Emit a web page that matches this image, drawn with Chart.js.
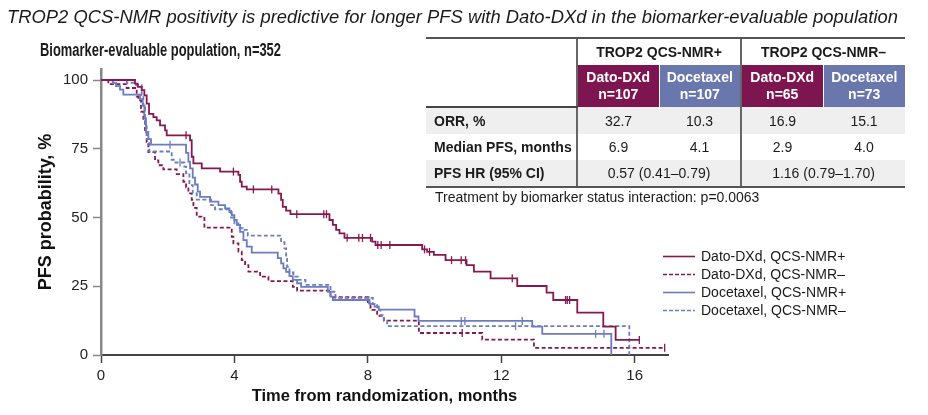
<!DOCTYPE html>
<html>
<head>
<meta charset="utf-8">
<script src="https://cdn.jsdelivr.net/npm/chart.js"></script>
<style>
  html, body { margin: 0; padding: 0; background: #fff; }
  body { width: 928px; height: 415px; position: relative; overflow: hidden;
         font-family: 'Liberation Sans', Arial, sans-serif; color: #1a1a1a; }
  canvas { position: absolute; left: 0; top: 0; }
  .narrow { font-family: 'Liberation Sans Narrow', 'Arial Narrow', 'Liberation Sans', Arial, sans-serif; }
  .fit { position: absolute; white-space: nowrap; transform-origin: left center; }
  #title { left: 7px; top: 6px; font-size: 19px; font-style: italic; line-height: 22px; }
  #sub { left: 40px; top: 40px; font-size: 18px; font-weight: bold; line-height: 20px; }

  #tbl { position: absolute; left: 426px; top: 37px; width: 479px; }
  #tbl table { border-collapse: collapse; table-layout: fixed; width: 479px; font-size: 14px; }
  #tbl td { padding: 0; text-align: center; white-space: nowrap; }
  #tbl tr.top td { border-top: 2px solid #555; height: 26px; font-weight: bold; }
  #tbl tr.arm td { height: 41px; color: #fff; font-weight: bold; line-height: 17px; }
  #tbl tr.arm td.blank { border-bottom: 2px solid #444; }
  #tbl td.dato { background: #7d1650; }
  #tbl td.doce { background: #6a77ad; border-left: 1px solid #fff; }
  #tbl td.sep { border-left: 2px solid #666; }
  #tbl td.lab { text-align: left; padding-left: 8px; font-weight: bold; }
  #tbl tr.row td { height: 26px; }
  #tbl tr.shade td { background: #efefef; }
  #tbl tr.last td { border-bottom: 2px solid #555; }
  #note { position: absolute; left: 435px; top: 189px; font-size: 14px; white-space: nowrap; }

  #legend { position: absolute; left: 663px; top: 247px; font-size: 14px; }
  .lg { position: absolute; left: 0; height: 18px; white-space: nowrap; }
  .lg svg { position: absolute; left: 0; top: 8px; }
  .lg span { position: absolute; left: 38px; top: 0; line-height: 18px; }
</style>
</head>
<body>
<canvas id="c" width="928" height="415"></canvas>
<div id="title" class="fit narrow">TROP2 QCS-NMR positivity is predictive for longer PFS with Dato-DXd in the biomarker-evaluable population</div>
<div id="sub" class="fit narrow">Biomarker-evaluable population, n=352</div>
<div id="tbl"></div>
<div id="note">Treatment by biomarker status interaction: p=0.0063</div>
<div id="legend"></div>
<script>
// ---- KM curves: step times (months) and PFS probability (%) ----
const datoPosTime = [0, 1.02, 1.10, 1.22, 1.30, 1.37, 1.44, 1.57, 1.67, 1.77, 1.92, 1.97, 2.67, 2.72, 2.77, 3.02, 3.57, 4.12, 4.17, 4.22, 4.37, 5.32, 5.40, 5.45, 5.55, 5.68, 6.85, 6.95, 7.05, 7.15, 7.30, 8.13, 8.23, 9.63, 9.78, 9.98, 10.33, 10.96, 11.18, 11.68, 12.48, 13.36, 13.56, 14.28, 15.06, 15.43, 16.14];
const datoPosSurv = [100, 98.7, 97.5, 96.3, 94.4, 91.4, 87.7, 86.5, 85.3, 83.5, 81.7, 79.9, 78.1, 72.1, 69.7, 67.9, 66.7, 65.5, 63.0, 61.2, 60.2, 58.7, 56.4, 53.9, 52.5, 51.2, 49.1, 47.3, 45.5, 44.2, 42.6, 41.2, 40.0, 38.4, 37.5, 36.4, 34.5, 32.7, 30.3, 27.9, 25.1, 22.7, 20.0, 15.4, 10.3, 5.5, 5.5];
const datoPosCens = [2.55, 3.97, 4.57, 5.12, 5.87, 6.68, 6.76, 7.38, 7.73, 7.84, 8.08, 8.30, 8.40, 8.66, 9.70, 9.85, 10.51, 10.80, 10.93, 12.33, 13.93, 13.98, 14.05, 16.14];

const datoNegTime = [0, 0.22, 0.77, 1.07, 1.12, 1.20, 1.27, 1.32, 1.37, 1.42, 1.62, 1.72, 1.87, 2.27, 2.47, 2.55, 2.62, 2.72, 2.77, 2.87, 3.10, 3.92, 3.97, 4.12, 4.22, 4.32, 4.42, 4.77, 5.02, 5.75, 5.88, 6.88, 8.00, 8.08, 8.28, 8.48, 9.53, 11.43, 12.98, 16.90];
const datoNegSurv = [100, 98.5, 97.1, 94.0, 92.6, 88.5, 85.9, 81.0, 77.5, 73.8, 70.8, 69.0, 67.5, 65.8, 63.0, 61.0, 58.8, 56.4, 53.5, 50.3, 46.3, 43.0, 40.6, 37.6, 34.5, 32.7, 30.3, 28.5, 26.9, 24.8, 23.4, 21.0, 19.2, 16.4, 14.2, 12.5, 8.0, 5.6, 2.6, 2.6];
const datoNegCens = [10.83, 16.90];

const docePosTime = [0, 0.35, 0.45, 0.57, 0.67, 1.17, 1.25, 1.30, 1.35, 1.42, 1.50, 2.55, 2.62, 2.67, 2.75, 2.82, 2.90, 2.97, 3.27, 3.52, 3.72, 3.85, 3.92, 4.00, 4.07, 4.17, 4.27, 4.37, 4.52, 5.30, 5.40, 5.47, 5.55, 5.65, 5.75, 5.88, 6.00, 6.80, 6.88, 6.95, 8.05, 8.20, 8.33, 9.40, 9.52, 12.93, 13.23, 15.30];
const docePosSurv = [100, 99.0, 97.8, 96.5, 94.7, 93.0, 90.8, 86.0, 81.1, 78.5, 76.5, 73.5, 70.3, 67.9, 64.5, 62.0, 59.4, 57.5, 55.8, 54.5, 53.3, 52.0, 50.9, 49.1, 47.3, 44.8, 41.8, 39.4, 37.2, 35.2, 33.3, 31.5, 30.2, 28.7, 27.3, 26.1, 24.8, 23.0, 21.2, 20.0, 18.6, 17.6, 16.5, 14.0, 12.4, 10.3, 7.7, 0];
const docePosCens = [2.07, 8.03, 10.80, 10.91, 12.63, 14.83, 15.08];

const doceNegTime = [0, 0.77, 1.00, 1.22, 1.27, 1.32, 1.37, 1.45, 2.12, 2.18, 2.50, 2.55, 2.65, 2.75, 2.87, 3.30, 3.42, 3.90, 4.00, 4.12, 4.25, 4.40, 5.40, 5.50, 5.55, 5.58, 5.65, 5.77, 5.90, 6.13, 6.88, 7.03, 8.15, 8.28, 8.38, 8.48, 8.58, 15.84];
const doceNegSurv = [100, 99.0, 98.2, 94.5, 90.0, 84.0, 78.5, 74.0, 71.0, 70.0, 68.5, 66.1, 61.8, 58.8, 56.5, 54.5, 53.0, 50.0, 47.9, 46.1, 45.5, 43.4, 41.0, 38.8, 35.5, 32.1, 30.0, 28.5, 27.3, 25.5, 23.0, 20.8, 18.5, 16.4, 14.5, 12.7, 10.5, 0];
const doceNegCens = [2.37, 12.43];

const seriesNames = ['Dato-DXd, QCS-NMR+', 'Dato-DXd, QCS-NMR\u2013', 'Docetaxel, QCS-NMR+', 'Docetaxel, QCS-NMR\u2013'];
const xTicks = [0, 4, 8, 12, 16];
const yTicks = [0, 25, 50, 75, 100];

// ---- table content ----
const groupLabels = ['TROP2 QCS-NMR+', 'TROP2 QCS-NMR\u2013'];
const armNames = ['Dato-DXd', 'Docetaxel', 'Dato-DXd', 'Docetaxel'];
const armN = [107, 107, 65, 73];
const orr = ['32.7', '10.3', '16.9', '15.1'];
const medianPfs = ['6.9', '4.1', '2.9', '4.0'];
const hrText = ['0.57 (0.41\u20130.79)', '1.16 (0.79\u20131.70)'];

const MAROON = '#85194f';
const BLUE = '#6b7cc0';
const NARROW = "'Liberation Sans Narrow', 'Arial Narrow', 'Liberation Sans', Arial, sans-serif";

// fit a text block to the width it has in the figure
function fitWidth(id, w) {
  const el = document.getElementById(id);
  const r = el.getBoundingClientRect().width;
  el.style.transform = 'scaleX(' + (w / r) + ')';
}
fitWidth('title', 891);
fitWidth('sub', 241);

// table
(function () {
  let h = '<table><colgroup><col style="width:151px"><col><col><col><col></colgroup>';
  h += '<tr class="top"><td></td>' + groupLabels.map(g => `<td colspan="2" class="sep">${g}</td>`).join('') + '</tr>';
  h += '<tr class="arm"><td class="blank"></td>' + armNames.map((a, i) =>
    `<td class="${i % 2 ? 'doce' : 'dato sep'}">${a}<br>n=${armN[i]}</td>`).join('') + '</tr>';
  h += '<tr class="row shade"><td class="lab">ORR, %</td>' + orr.map((v, i) => `<td class="${i % 2 ? '' : 'sep'}">${v}</td>`).join('') + '</tr>';
  h += '<tr class="row"><td class="lab">Median PFS, months</td>' + medianPfs.map((v, i) => `<td class="${i % 2 ? '' : 'sep'}">${v}</td>`).join('') + '</tr>';
  h += '<tr class="row shade last"><td class="lab">PFS HR (95% CI)</td>' + hrText.map(v => `<td colspan="2" class="sep">${v}</td>`).join('') + '</tr>';
  document.getElementById('tbl').innerHTML = h + '</table>';
})();

// legend
(function () {
  const cols = [MAROON, MAROON, BLUE, BLUE];
  const tops = [0, 18, 36, 54];
  document.getElementById('legend').innerHTML = seriesNames.map((n, i) =>
    `<div class="lg" style="top:${tops[i]}px"><svg width="32" height="3"><line x1="0" y1="1.5" x2="32" y2="1.5" stroke="${cols[i]}" stroke-width="1.6" ${i % 2 ? 'stroke-dasharray="4 2"' : ''}/></svg><span>${n}</span></div>`
  ).join('');
})();

const pts = (ts, ss) => ts.map((t, i) => ({ x: t, y: ss[i] }));
function survAt(ts, ss, t) {
  let s = ss[0];
  for (let i = 0; i < ts.length; i++) if (ts[i] <= t) s = ss[i];
  return s;
}
const cens = (cs, ts, ss) => cs.map(t => ({ x: t, y: survAt(ts, ss, t) }));

const curve = (data, color, dashed) => ({
  type: 'line', data, stepped: true, borderColor: color, borderWidth: 1.8,
  borderDash: dashed ? [4, 2.5] : [], pointRadius: 0, fill: false
});
const ticksOf = (data, color) => ({
  type: 'scatter', data, pointStyle: 'line', rotation: 90, radius: 4,
  borderColor: color, backgroundColor: color, borderWidth: 1.3, showLine: false
});

new Chart(document.getElementById('c'), {
  type: 'line',
  data: {
    datasets: [
      curve(pts(datoPosTime, datoPosSurv), MAROON, false),
      ticksOf(cens(datoPosCens, datoPosTime, datoPosSurv), MAROON),
      curve(pts(docePosTime, docePosSurv), BLUE, false),
      ticksOf(cens(docePosCens, docePosTime, docePosSurv), BLUE),
      curve(pts(doceNegTime, doceNegSurv), BLUE, true),
      ticksOf(cens(doceNegCens, doceNegTime, doceNegSurv), BLUE),
      curve(pts(datoNegTime, datoNegSurv), MAROON, true),
      ticksOf(cens(datoNegCens, datoNegTime, datoNegSurv), MAROON),
    ]
  },
  options: {
    responsive: false, animation: false, devicePixelRatio: 1,
    layout: { padding: { left: 0, right: 260, top: 69, bottom: 0 } },
    plugins: { legend: { display: false }, tooltip: { enabled: false } },
    scales: {
      x: {
        type: 'linear', min: 0, max: 17,
        afterBuildTicks: s => { s.ticks = xTicks.map(v => ({ value: v })); },
        afterFit: s => { s.height = 60; },
        ticks: { font: { family: NARROW, size: 15 }, color: '#222', padding: 4, maxRotation: 0 },
        grid: { drawOnChartArea: false, tickLength: 8, tickColor: '#444', tickWidth: 1.5 },
        border: { color: '#444', width: 2 },
        title: { display: true, text: 'Time from randomization, months',
                 font: { family: NARROW, size: 16.5, weight: 'bold' }, color: '#111', padding: { bottom: 9 } }
      },
      y: {
        min: 0, max: 104,
        afterBuildTicks: s => { s.ticks = yTicks.map(v => ({ value: v })); },
        afterFit: s => { s.width = 101; },
        ticks: { font: { family: NARROW, size: 15 }, color: '#222', padding: 5 },
        grid: { drawOnChartArea: false, tickLength: 8, tickColor: '#888', tickWidth: 1.5 },
        border: { color: '#888', width: 2.5 },
        title: { display: true, text: 'PFS probability, %',
                 font: { family: NARROW, size: 18, weight: 'bold' }, color: '#111', padding: { top: 35 } }
      }
    }
  }
});
</script>
</body>
</html>
